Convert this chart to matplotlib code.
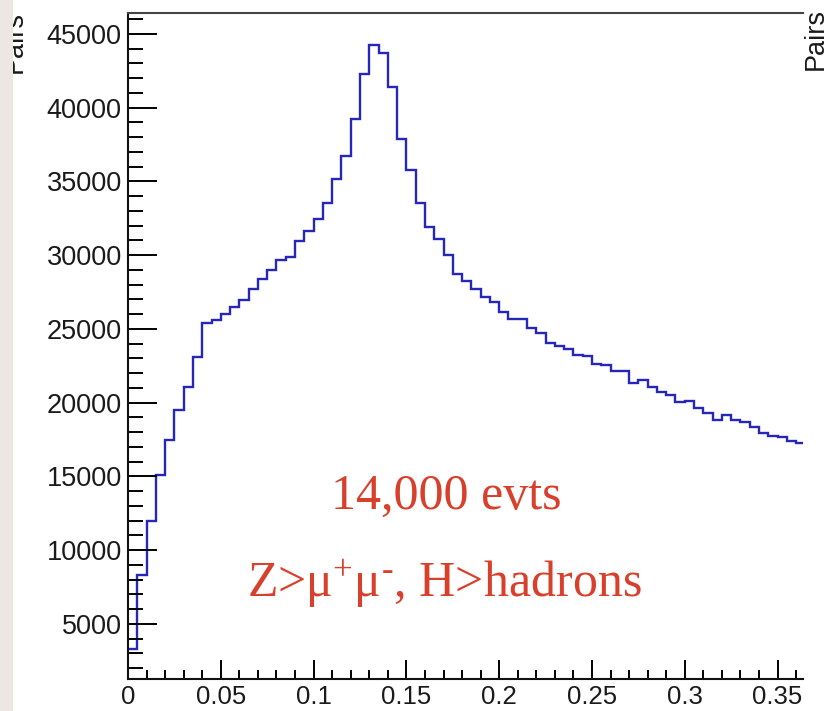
import numpy as np
import matplotlib.pyplot as plt
from matplotlib.patches import Rectangle
from matplotlib.ticker import FixedLocator, FixedFormatter, MultipleLocator

plt.rcParams['mathtext.fontset'] = 'custom'
plt.rcParams['mathtext.rm'] = 'Liberation Serif'
plt.rcParams['mathtext.it'] = 'Liberation Serif:italic'
plt.rcParams['mathtext.bf'] = 'Liberation Serif:bold'

# histogram contents, bins of 0.005 starting at 0
bin_width = 0.005
pairs = [3300, 8300, 12000, 15100, 17500, 19500, 21050, 23130, 25390, 25610,
         26020, 26470, 26970, 27690, 28390, 29000, 29680, 29900, 30990, 31620,
         32440, 33520, 35190, 36730, 39260, 42290, 44280, 43690, 41390, 37860,
         35780, 33520, 31940, 31120, 30020, 28710, 28280, 27690, 27190, 26830,
         26150, 25660, 25660, 25090, 24710, 24070, 23870, 23640, 23240, 23150,
         22630, 22540, 22180, 22180, 21360, 21540, 21090, 20750, 20500, 20050,
         20140, 19640, 19280, 18830, 19150, 18830, 18690, 18340, 17970, 17750,
         17660, 17390, 17250]

xticks = [0, 0.05, 0.1, 0.15, 0.2, 0.25, 0.3, 0.35]
xtick_labels = ['0', '0.05', '0.1', '0.15', '0.2', '0.25', '0.3', '0.35']
yticks = [5000, 10000, 15000, 20000, 25000, 30000, 35000, 40000, 45000]
ytick_labels = ['5000', '10000', '15000', '20000', '25000', '30000', '35000', '40000', '45000']

ytitle = 'Pairs'
note1 = '14,000 evts'
note2 = 'Z>\u03bc$^{\\mathrm{+}}$\u03bc$^{\\mathrm{\u2010}}$, H>hadrons'

W, H = 831, 711
fig = plt.figure(figsize=(W / 100, H / 100), dpi=100)
fig.patch.set_facecolor('white')
ax = fig.add_axes([128 / W, 32 / H, 675 / W, 666 / H])

edges = np.arange(len(pairs) + 1) * bin_width
ax.stairs(pairs, edges, baseline=None, color='#2626b8', lw=1.7)

ax.set_xlim(0, 0.3637)
ax.set_ylim(1270, 46420)

ax.xaxis.set_major_locator(FixedLocator(xticks))
ax.xaxis.set_major_formatter(FixedFormatter(xtick_labels))
ax.xaxis.set_minor_locator(MultipleLocator(0.01))
ax.yaxis.set_major_locator(FixedLocator(yticks))
ax.yaxis.set_major_formatter(FixedFormatter(ytick_labels))
ax.yaxis.set_minor_locator(MultipleLocator(1000))

for lab in ax.get_yticklabels():
    lab.set_fontfamily(['Liberation Sans', 'DejaVu Sans'])
    lab.set_fontsize(19.5)
    lab.set_color('#1a1a1a')
for lab in ax.get_xticklabels():
    lab.set_fontfamily(['Liberation Sans', 'DejaVu Sans'])
    lab.set_fontsize(18.5)
    lab.set_color('#1a1a1a')

ax.tick_params(axis='x', which='major', direction='in', length=14, width=1.4, pad=4)
ax.tick_params(axis='x', which='minor', direction='in', length=6.7, width=1.4)
ax.tick_params(axis='y', which='major', direction='in', length=21, width=1.4, pad=4.5)
ax.tick_params(axis='y', which='minor', direction='in', length=11, width=1.4)

ax.spines['right'].set_visible(False)
for side in ['left', 'bottom']:
    ax.spines[side].set_linewidth(1.5)
    ax.spines[side].set_color('#111111')
ax.spines['top'].set_linewidth(1.5)
ax.spines['top'].set_color('#444444')

# axis titles (ROOT style, at the top end)
fig.text(15 / W, 1 - 11 / H, ytitle, rotation=90, ha='center', va='top',
         fontsize=19.5, family=['Liberation Sans', 'DejaVu Sans'], color='#1a1a1a')
fig.text(816 / W, 1 - 8 / H, ytitle, rotation=90, ha='center', va='top',
         fontsize=19.5, family=['Liberation Sans', 'DejaVu Sans'], color='#1a1a1a')

red = '#d8402c'
serif = ['Liberation Serif', 'DejaVu Serif']
fig.text(446 / W, 1 - 509 / H, note1, ha='center', va='baseline',
         fontsize=36, family=serif, color=red)
fig.text(444 / W, 1 - 597 / H, note2, ha='center', va='baseline',
         fontsize=36, family=serif, color=red)

# slide background strip on the left edge
fig.patches.append(Rectangle((0, 0), 13 / W, 1, transform=fig.transFigure,
                             facecolor='#ece7e2', edgecolor='none', zorder=10))

fig.savefig('out.png', dpi=100)
